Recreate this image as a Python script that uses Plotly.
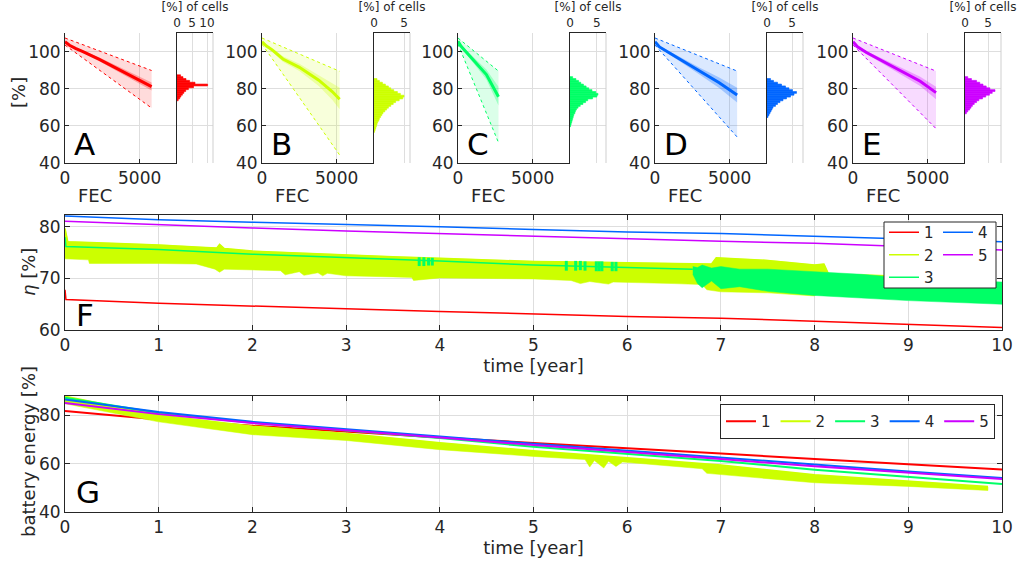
import plotly.graph_objects as go

# ======================= DATA =======================
series_names = ['1', '2', '3', '4', '5']
panel_letters = ['A', 'B', 'C', 'D', 'E']
colors = ['#FF0000', '#CCFF00', '#00FF66', '#0066FF', '#CC00FF']

# --- top panels: relative capacity [%] vs FEC ---
fec_A = [0, 300, 700, 1200, 2300, 3400, 4600, 5800]
mean_A = [105.3, 103.4, 101.7, 100.0, 95.8, 91.3, 86.3, 81.1]
inner_hi_A = [105.6, 103.9, 102.3, 100.7, 96.8, 92.6, 88.1, 83.4]
inner_lo_A = [105.0, 102.9, 101.1, 99.3, 94.8, 90.0, 84.5, 79.0]
outer_fec_A = [0, 5800]
outer_hi_A = [107.3, 89.8]
outer_lo_A = [103.5, 69.6]
hist_bins_A = [74, 75, 76, 77, 78, 79, 80, 81, 82, 83, 84, 85, 86, 87]
hist_pct_A = [0.4, 0.9, 1.3, 1.8, 2.3, 2.9, 3.8, 5.5, 10.2, 6.0, 4.2, 3.0, 2.0, 1.2]

fec_B = [0, 300, 700, 1400, 2500, 3800, 4700, 5200]
mean_B = [105.3, 103.0, 100.8, 96.0, 91.5, 84.6, 78.5, 74.3]
inner_hi_B = [105.6, 103.6, 101.8, 97.5, 93.5, 87.5, 83.0, 80.5]
inner_lo_B = [105.0, 102.4, 99.8, 94.5, 89.5, 81.5, 74.0, 69.0]
outer_fec_B = [0, 5200]
outer_hi_B = [107.3, 89.4]
outer_lo_B = [104.0, 44.3]
hist_bins_B = list(range(57, 86))
hist_pct_B = [0.1, 0.2, 0.3, 0.4, 0.5, 0.6, 0.8, 0.9, 1.1, 1.3, 1.5, 1.8, 2.1, 2.4,
              2.8, 3.2, 3.6, 4.2, 4.8, 5.0, 4.4, 3.9, 3.3, 2.8, 2.4, 1.9, 1.4, 0.9, 0.5]

fec_C = [0, 220, 500, 1000, 1900, 2710]
mean_C = [105.5, 102.7, 100.2, 95.8, 87.6, 75.7]
inner_hi_C = [105.8, 103.3, 101.2, 97.2, 90.3, 81.0]
inner_lo_C = [105.2, 102.1, 99.2, 94.4, 85.0, 71.0]
outer_fec_C = [0, 2710]
outer_hi_C = [107.3, 89.5]
outer_lo_C = [104.0, 51.0]
hist_bins_C = list(range(60, 87))
hist_pct_C = [0.1, 0.2, 0.3, 0.4, 0.5, 0.6, 0.7, 0.9, 1.0, 1.2, 1.5, 1.9, 2.4, 2.9,
              3.3, 4.2, 5.0, 5.2, 4.8, 4.1, 3.5, 3.0, 2.5, 2.0, 1.6, 1.1, 0.5]

fec_D = [0, 300, 1000, 1900, 3000, 4300, 5500]
mean_D = [105.3, 102.5, 99.1, 94.7, 89.4, 83.2, 76.6]
inner_hi_D = [105.6, 103.0, 100.0, 96.0, 91.3, 86.0, 80.5]
inner_lo_D = [105.0, 102.0, 98.2, 93.4, 87.5, 80.4, 72.6]
outer_fec_D = [0, 5500]
outer_hi_D = [107.3, 89.5]
outer_lo_D = [103.5, 54.0]
hist_bins_D = list(range(65, 86))
hist_pct_D = [0.2, 0.4, 0.6, 0.8, 1.0, 1.2, 1.7, 2.1, 2.6, 3.2, 3.9, 4.7, 5.4, 5.9,
              5.1, 4.4, 3.7, 2.9, 2.1, 1.3, 0.7]

fec_E = [0, 300, 900, 2000, 3200, 4500, 5560]
mean_E = [105.3, 102.6, 99.5, 94.7, 89.6, 84.0, 77.9]
inner_hi_E = [105.6, 103.1, 100.3, 96.0, 91.5, 86.5, 81.0]
inner_lo_E = [105.0, 102.1, 98.7, 93.4, 87.7, 81.5, 74.3]
outer_fec_E = [0, 5560]
outer_hi_E = [107.3, 89.5]
outer_lo_E = [103.5, 58.5]
hist_bins_E = list(range(67, 87))
hist_pct_E = [0.3, 0.6, 1.0, 1.3, 1.6, 2.0, 2.5, 3.0, 3.8, 4.5, 5.3, 5.9, 6.5, 5.4,
              4.6, 3.9, 3.2, 2.5, 1.4, 0.6]

hist_xmax = [12, 6, 6.7, 7.2, 7.8]
hist_ticks = [[0, 5, 10], [0, 5], [0, 5], [0, 5], [0, 5]]

# --- panel F: efficiency eta [%] vs time [year] ---
t_F_red = [0, 0.01, 1, 2, 3, 4, 5, 6, 7, 8, 9, 10]
eta_red = [67.8, 65.9, 65.2, 64.6, 64.1, 63.6, 63.1, 62.6, 62.3, 61.7, 61.1, 60.5]
t_F = [0, 1, 2, 3, 4, 5, 6, 7, 8, 9, 10]
eta_blue = [82.1, 81.4, 80.9, 80.5, 80.0, 79.5, 79.0, 78.7, 78.2, 77.6, 77.1]
eta_magenta = [81.1, 80.4, 79.8, 79.2, 78.7, 78.2, 77.6, 77.2, 76.8, 76.2, 75.5]
t_F_green = [0, 0.01, 0.5, 1, 2, 3, 4, 5, 6, 6.7]
eta_green = [78.0, 76.2, 75.9, 75.6, 74.7, 74.1, 73.4, 72.6, 72.1, 71.8]
t_F_green_band = [6.7, 6.75, 6.8, 6.9, 7, 7.2, 7.5, 8, 8.5, 9, 9.5, 10]
eta_green_hi = [72.3, 72.1, 72.6, 72.0, 72.3, 71.8, 71.8, 71.3, 70.8, 70.0, 69.7, 69.3]
eta_green_lo = [70.8, 69.0, 68.2, 69.5, 68.0, 68.4, 67.5, 66.7, 66.2, 65.7, 65.3, 65.0]
t_F_green_spikes = [3.78, 3.83, 3.88, 3.92, 5.35, 5.45, 5.5, 5.55, 5.67, 5.7, 5.73, 5.84, 5.88]
eta_green_spike_lo = [72.4, 72.4, 72.5, 72.5, 71.5, 71.5, 71.6, 71.5, 71.4, 71.4, 71.4, 71.4, 71.4]
eta_green_spike_hi = [74.1, 74.1, 74.0, 74.0, 73.4, 73.4, 73.4, 73.3, 73.3, 73.3, 73.3, 73.2, 73.2]
t_F_yellow_hi = [0, 0.03, 0.5, 1, 1.5, 1.62, 1.65, 1.7, 2, 2.5, 3, 3.5, 4, 4.5, 5, 5.5,
                 6, 6.5, 6.9, 6.95, 7.5, 8.0, 8.1, 8.15, 8.6, 9.2]
eta_yellow_hi = [79.7, 77.1, 76.8, 76.5, 76.0, 75.9, 76.6, 75.8, 75.3, 74.9, 74.6, 74.2,
                 73.9, 73.6, 73.3, 73.2, 73.0, 72.9, 72.8, 74.0, 73.5, 72.6, 72.8, 70.8, 70.6, 70.3]
t_F_yellow_lo = [0, 0.25, 0.26, 1, 1.4, 1.6, 1.65, 1.7, 2, 2.3, 2.35, 2.5, 2.55, 2.7, 2.75,
                 2.8, 3, 3.5, 3.7, 3.72, 4, 5, 5.4, 5.5, 5.6, 5.8, 5.85, 6, 6.5, 6.8, 6.85,
                 7, 7.5, 8, 8.1, 8.15, 9.2]
eta_yellow_lo = [73.8, 73.6, 72.9, 72.9, 72.8, 71.8, 71.2, 71.8, 71.7, 71.5, 70.7, 71.3,
                 70.6, 71.1, 70.5, 71.0, 70.5, 70.3, 70.2, 69.6, 70.1, 69.9, 69.6, 69.0,
                 69.4, 68.9, 69.3, 69.2, 69.0, 68.8, 67.8, 67.4, 67.2, 66.6, 69.0, 69.5, 69.5]

# --- panel G: battery energy [%] vs time [year] ---
t_G = [0, 1, 2, 3, 4, 5, 6, 7, 8, 9, 10]
energy_red = [81.8, 78.3, 75.7, 73.2, 70.8, 68.6, 66.5, 64.2, 61.9, 59.7, 57.6]
energy_blue = [86.6, 81.4, 77.3, 74.4, 71.2, 68.2, 65.4, 62.8, 59.7, 56.8, 54.1]
energy_magenta = [85.1, 80.5, 76.8, 73.9, 70.8, 67.7, 64.9, 61.9, 58.9, 56.3, 53.7]
energy_green = [87.3, 81.0, 76.9, 73.8, 70.6, 67.0, 63.9, 61.1, 57.5, 54.7, 51.6]
t_G_yellow_hi = [0, 1, 2, 3, 4, 5, 6, 7, 8, 9, 9.85]
energy_yellow_hi = [87.8, 80.0, 75.4, 72.4, 68.6, 65.2, 62.3, 59.3, 55.3, 52.7, 50.4]
t_G_yellow_lo = [0, 0.3, 1, 2, 3, 4, 5, 5.55, 5.6, 5.65, 5.75, 5.8, 5.88, 5.95, 6, 6.8,
                 6.85, 7, 8, 9, 9.85]
energy_yellow_lo = [84.8, 82.5, 77.3, 72.0, 69.6, 65.8, 63.0, 61.7, 58.6, 61.3, 58.2,
                    61.0, 58.8, 60.7, 60.4, 57.9, 56.0, 55.4, 52.1, 50.6, 48.9]

# ======================= LAYOUT HELPERS =======================
W, H = 1018, 567
def fx(px):
    return px / W
def fy(px):
    return 1 - px / H
def rgba(hexc, a):
    h = hexc.lstrip('#')
    return 'rgba(%d,%d,%d,%.2f)' % (int(h[0:2], 16), int(h[2:4], 16), int(h[4:6], 16), a)
def xref(n):
    return 'x' if n == 1 else 'x%d' % n
def yref(n):
    return 'y' if n == 1 else 'y%d' % n
def xkey(n):
    return 'xaxis' if n == 1 else 'xaxis%d' % n
def ykey(n):
    return 'yaxis' if n == 1 else 'yaxis%d' % n

AX = '#262626'
GRID = '#dedede'
FONT = 'DejaVu Sans'

fig = go.Figure()
layout = {}
shapes = []
annotations = []

def ytitle_annot(text, xpx, ypx):
    annotations.append(dict(text=text, xref='paper', yref='paper', x=fx(xpx), y=fy(ypx),
                            xanchor='center', yanchor='middle', textangle=-90, showarrow=False,
                            font=dict(size=18, color=AX)))

panels = [
    (fec_A, mean_A, inner_hi_A, inner_lo_A, outer_fec_A, outer_hi_A, outer_lo_A, hist_bins_A, hist_pct_A),
    (fec_B, mean_B, inner_hi_B, inner_lo_B, outer_fec_B, outer_hi_B, outer_lo_B, hist_bins_B, hist_pct_B),
    (fec_C, mean_C, inner_hi_C, inner_lo_C, outer_fec_C, outer_hi_C, outer_lo_C, hist_bins_C, hist_pct_C),
    (fec_D, mean_D, inner_hi_D, inner_lo_D, outer_fec_D, outer_hi_D, outer_lo_D, hist_bins_D, hist_pct_D),
    (fec_E, mean_E, inner_hi_E, inner_lo_E, outer_fec_E, outer_hi_E, outer_lo_E, hist_bins_E, hist_pct_E),
]
main_left = [65, 262, 458, 655, 853]
MAIN_W, HIST_W = 112, 36
TOP_Y0, TOP_Y1 = 33, 163

for i, (fec, mean, ihi, ilo, ofec, ohi, olo, hb, hp) in enumerate(panels):
    c = colors[i]
    nm, nh = 2 * i + 1, 2 * i + 2
    L = main_left[i]
    common = dict(xaxis=xref(nm), yaxis=yref(nm), showlegend=False, hoverinfo='skip')
    # outer band
    fig.add_trace(go.Scatter(x=ofec + ofec[::-1], y=ohi + olo[::-1], fill='toself',
                             fillcolor=rgba(c, 0.14), mode='lines', line=dict(width=0), **common))
    fig.add_trace(go.Scatter(x=ofec, y=ohi, mode='lines', line=dict(color=c, width=1, dash='dot'), **common))
    fig.add_trace(go.Scatter(x=ofec, y=olo, mode='lines', line=dict(color=c, width=1, dash='dot'), **common))
    # inner band
    fig.add_trace(go.Scatter(x=fec + fec[::-1], y=ihi + ilo[::-1], fill='toself',
                             fillcolor=rgba(c, 0.28), mode='lines', line=dict(width=0), **common))
    # mean curve
    fig.add_trace(go.Scatter(x=fec, y=mean, mode='lines', line=dict(color=c, width=3), **common))
    # histogram
    fig.add_trace(go.Bar(x=hp, y=hb, orientation='h', width=1,
                         marker=dict(color=c, line=dict(width=0.6, color=c)),
                         xaxis=xref(nh), yaxis=yref(nh), showlegend=False, hoverinfo='skip'))

    layout[xkey(nm)] = dict(domain=[fx(L), fx(L + MAIN_W)], anchor=yref(nm), range=[0, 7500],
                            tickvals=[0, 5000], showline=True, linecolor=AX, linewidth=1,
                            ticks='inside', ticklen=4, tickcolor=AX, showgrid=True, gridcolor=GRID,
                            zeroline=False, automargin=False, tickfont=dict(size=17, color=AX))
    layout[ykey(nm)] = dict(domain=[fy(TOP_Y1), fy(TOP_Y0)], anchor=xref(nm), range=[40, 110],
                            tickvals=[40, 60, 80, 100], showline=True, linecolor=AX, linewidth=1,
                            ticks='inside', ticklen=4, tickcolor=AX, showgrid=True, gridcolor=GRID,
                            zeroline=False, automargin=False, tickfont=dict(size=17, color=AX))
    layout[xkey(nh)] = dict(domain=[fx(L + MAIN_W), fx(L + MAIN_W + HIST_W)], anchor=yref(nh),
                            side='top', range=[0, hist_xmax[i]], tickvals=hist_ticks[i],
                            showline=True, linecolor=AX, linewidth=1, ticks='', showgrid=True,
                            gridcolor=GRID, zeroline=False, automargin=False,
                            tickfont=dict(size=12, color=AX),
                            title=dict(text='[%] of cells', font=dict(size=12, color=AX), standoff=2))
    layout[ykey(nh)] = dict(domain=[fy(TOP_Y1), fy(TOP_Y0)], anchor=xref(nh), range=[40, 110],
                            tickvals=[60, 80, 100], showticklabels=False, showline=True,
                            linecolor=AX, linewidth=1, ticks='', showgrid=True, gridcolor=GRID,
                            zeroline=False, automargin=False)
    shapes.append(dict(type='line', xref=xref(nh) + ' domain', yref=yref(nh) + ' domain',
                       x0=1, x1=1, y0=0, y1=1, line=dict(color='#cfcfcf', width=1)))
    annotations.append(dict(text=panel_letters[i], xref='paper', yref='paper', x=fx(L + 7), y=fy(144),
                            xanchor='left', yanchor='middle', showarrow=False,
                            font=dict(size=31, color='black')))
    annotations.append(dict(text='FEC', xref='paper', yref='paper', x=fx(L + 30), y=fy(195),
                            xanchor='center', yanchor='middle', showarrow=False,
                            font=dict(size=18, color=AX)))

ytitle_annot('[%]', 19, 93)

# ----------------- panel F -----------------
F = 11
cF = dict(xaxis=xref(F), yaxis=yref(F), hoverinfo='skip')
fig.add_trace(go.Scatter(x=t_F_red, y=eta_red, mode='lines', line=dict(color=colors[0], width=1.5),
                         name=series_names[0], legend='legend2', **cF))
fig.add_trace(go.Scatter(x=t_F_yellow_hi + t_F_yellow_lo[::-1], y=eta_yellow_hi + eta_yellow_lo[::-1],
                         fill='toself', fillcolor=colors[1], mode='lines',
                         line=dict(color=colors[1], width=0.5), showlegend=False, **cF))
fig.add_trace(go.Scatter(x=t_F_yellow_hi, y=eta_yellow_hi, mode='lines', line=dict(color=colors[1], width=1.5),
                         name=series_names[1], legend='legend2', **cF))
fig.add_trace(go.Scatter(x=t_F_green, y=eta_green, mode='lines', line=dict(color=colors[2], width=1.5),
                         name=series_names[2], legend='legend2', **cF))
fig.add_trace(go.Scatter(x=t_F_green_band + t_F_green_band[::-1], y=eta_green_hi + eta_green_lo[::-1],
                         fill='toself', fillcolor=colors[2], mode='lines',
                         line=dict(color=colors[2], width=0.5), showlegend=False, **cF))
sx, sy = [], []
for t, lo, hi in zip(t_F_green_spikes, eta_green_spike_lo, eta_green_spike_hi):
    sx += [t, t, None]
    sy += [lo, hi, None]
fig.add_trace(go.Scatter(x=sx, y=sy, mode='lines', line=dict(color=colors[2], width=3),
                         showlegend=False, **cF))
fig.add_trace(go.Scatter(x=t_F, y=eta_blue, mode='lines', line=dict(color=colors[3], width=1.5),
                         name=series_names[3], legend='legend3', **cF))
fig.add_trace(go.Scatter(x=t_F, y=eta_magenta, mode='lines', line=dict(color=colors[4], width=1.5),
                         name=series_names[4], legend='legend3', **cF))

# ----------------- panel G -----------------
G = 12
cG = dict(xaxis=xref(G), yaxis=yref(G), hoverinfo='skip')
fig.add_trace(go.Scatter(x=t_G, y=energy_red, mode='lines', line=dict(color=colors[0], width=2),
                         name=series_names[0], legend='legend', **cG))
fig.add_trace(go.Scatter(x=t_G_yellow_hi + t_G_yellow_lo[::-1], y=energy_yellow_hi + energy_yellow_lo[::-1],
                         fill='toself', fillcolor=colors[1], mode='lines',
                         line=dict(color=colors[1], width=0.5), showlegend=False, **cG))
fig.add_trace(go.Scatter(x=t_G_yellow_hi, y=energy_yellow_hi, mode='lines', line=dict(color=colors[1], width=2),
                         name=series_names[1], legend='legend', **cG))
fig.add_trace(go.Scatter(x=t_G, y=energy_green, mode='lines', line=dict(color=colors[2], width=2),
                         name=series_names[2], legend='legend', **cG))
fig.add_trace(go.Scatter(x=t_G, y=energy_blue, mode='lines', line=dict(color=colors[3], width=2),
                         name=series_names[3], legend='legend', **cG))
fig.add_trace(go.Scatter(x=t_G, y=energy_magenta, mode='lines', line=dict(color=colors[4], width=2),
                         name=series_names[4], legend='legend', **cG))

def time_axes(n, y_top, y_bot, yrange, yticks):
    layout[xkey(n)] = dict(domain=[fx(65), fx(1002)], anchor=yref(n), range=[0, 10], dtick=1,
                           showline=True, mirror='ticks', linecolor=AX, linewidth=1, ticks='inside',
                           ticklen=5, tickcolor=AX, showgrid=True, gridcolor=GRID, zeroline=False,
                           automargin=False, tickfont=dict(size=17, color=AX),
                           title=dict(text='time [year]', font=dict(size=18, color=AX), standoff=3))
    layout[ykey(n)] = dict(domain=[fy(y_bot), fy(y_top)], anchor=xref(n), range=yrange, tickvals=yticks,
                           showline=True, mirror='ticks', linecolor=AX, linewidth=1, ticks='inside',
                           ticklen=5, tickcolor=AX, showgrid=True, gridcolor=GRID, zeroline=False,
                           automargin=False, tickfont=dict(size=17, color=AX))

time_axes(F, 215, 330, [60, 82.3], [60, 70, 80])
time_axes(G, 396, 512, [40, 88], [40, 60, 80])
ytitle_annot('<i>η</i> [%]', 28, 272)
ytitle_annot('battery energy [%]', 28, 452)

annotations.append(dict(text='F', xref='paper', yref='paper', x=fx(74), y=fy(315), xanchor='left',
                        yanchor='middle', showarrow=False, font=dict(size=31, color='black')))
annotations.append(dict(text='G', xref='paper', yref='paper', x=fx(74), y=fy(492), xanchor='left',
                        yanchor='middle', showarrow=False, font=dict(size=31, color='black')))

# legend box for F (two columns)
shapes.append(dict(type='rect', xref='paper', yref='paper', x0=fx(884), x1=fx(996), y0=fy(288), y1=fy(222),
                   fillcolor='white', line=dict(color=AX, width=1), layer='above'))

fig.update_layout(
    width=W, height=H, margin=dict(l=0, r=0, t=0, b=0, autoexpand=False),
    paper_bgcolor='white', plot_bgcolor='white',
    font=dict(family=FONT, size=17, color=AX),
    showlegend=True,
    legend=dict(orientation='h', x=fx(995), xanchor='right', y=fy(404), yanchor='top',
                bgcolor='white', bordercolor=AX, borderwidth=1, font=dict(size=15, color=AX),
                tracegroupgap=0),
    legend2=dict(orientation='v', x=fx(884), xanchor='left', y=fy(216), yanchor='top',
                 bgcolor='rgba(0,0,0,0)', borderwidth=0, font=dict(size=15, color=AX), tracegroupgap=0),
    legend3=dict(orientation='v', x=fx(938), xanchor='left', y=fy(216), yanchor='top',
                 bgcolor='rgba(0,0,0,0)', borderwidth=0, font=dict(size=15, color=AX), tracegroupgap=0),
    shapes=shapes, annotations=annotations, **layout)

fig.write_html('out.html', config={'displayModeBar': False},
               post_script="document.body.style.margin='0';document.body.style.padding='0';")
